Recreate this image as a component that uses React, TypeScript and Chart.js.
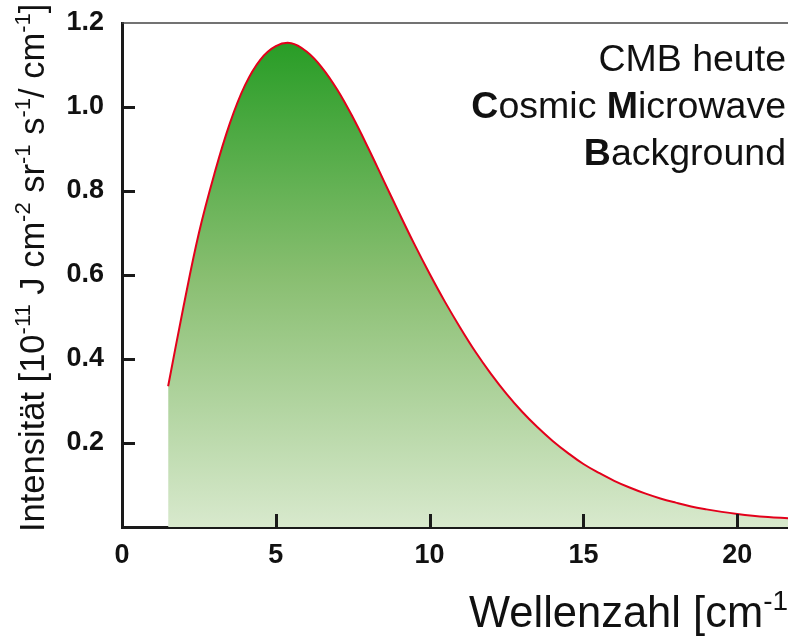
import React, { useEffect, useRef } from 'react';
import { Chart, registerables } from 'chart.js';

Chart.register(...registerables);

// ---- data ----
const wavenumber = [1.5, 2, 2.5, 3, 3.5, 4, 4.5, 5, 5.5, 6, 6.5, 7, 7.5, 8, 8.5, 9, 9.5, 10, 10.5, 11, 11.5, 12, 12.5, 13, 13.5, 14, 14.5, 15, 15.5, 16, 16.5, 17, 17.5, 18, 18.5, 19, 19.5, 20, 20.5, 21, 21.65];
const intensity = [0.335, 0.525, 0.7, 0.84, 0.96, 1.052, 1.113, 1.145, 1.152, 1.132, 1.094, 1.041, 0.976, 0.903, 0.826, 0.749, 0.674, 0.603, 0.536, 0.474, 0.416, 0.364, 0.317, 0.275, 0.238, 0.205, 0.176, 0.15, 0.129, 0.11, 0.094, 0.08, 0.068, 0.058, 0.049, 0.042, 0.036, 0.031, 0.027, 0.024, 0.021];
const xTickValues = [0, 5, 10, 15, 20];
const yTickValues = [0.2, 0.4, 0.6, 0.8, 1.0, 1.2];
const xMin = 0;
const xMax = 21.65;
const yMin = 0;
const yMax = 1.2;

type Seg = { t: string; sup?: boolean; bold?: boolean };

const yTitle: Seg[] = [
  { t: 'Intensität [10' }, { t: '-11', sup: true }, { t: ' J cm' }, { t: '-2', sup: true },
  { t: ' sr' }, { t: '-1', sup: true }, { t: ' s' }, { t: '-1', sup: true }, { t: '/ cm' },
  { t: '-1', sup: true }, { t: ']' },
];
const xTitle: Seg[] = [{ t: 'Wellenzahl [cm' }, { t: '-1', sup: true }, { t: ']' }];
const noteLines: Seg[][] = [
  [{ t: 'CMB heute' }],
  [{ t: 'C', bold: true }, { t: 'osmic ' }, { t: 'M', bold: true }, { t: 'icrowave' }],
  [{ t: 'B', bold: true }, { t: 'ackground' }],
];

const FAMILY = '"Liberation Sans", Arial, Helvetica, sans-serif';

function segFont(s: Seg, size: number) {
  const sz = s.sup ? Math.round(size * 0.64) : size;
  return `${s.bold ? 'bold ' : ''}${sz}px ${FAMILY}`;
}

function measureSegs(ctx: CanvasRenderingContext2D, segs: Seg[], size: number) {
  let w = 0;
  for (const s of segs) {
    ctx.font = segFont(s, size);
    w += ctx.measureText(s.t).width;
  }
  return w;
}

function drawSegs(ctx: CanvasRenderingContext2D, segs: Seg[], x: number, y: number, size: number) {
  let cx = x;
  ctx.textAlign = 'left';
  ctx.textBaseline = 'alphabetic';
  for (const s of segs) {
    ctx.font = segFont(s, size);
    const dy = s.sup ? -size * 0.4 : 0;
    ctx.fillText(s.t, cx, y + dy);
    cx += ctx.measureText(s.t).width;
  }
}

const textPlugin = {
  id: 'cmbText',
  afterDraw(chart: any) {
    const { ctx, chartArea } = chart;
    const xs = chart.scales.x;
    const ys = chart.scales.y;
    ctx.save();
    // top frame line
    ctx.strokeStyle = '#444';
    ctx.lineWidth = 1.5;
    ctx.beginPath();
    ctx.moveTo(chartArea.left, chartArea.top);
    ctx.lineTo(chartArea.right, chartArea.top);
    ctx.stroke();

    // inward tick marks
    ctx.strokeStyle = '#1a1a1a';
    ctx.lineWidth = 3;
    ctx.beginPath();
    xTickValues.forEach((v) => {
      if (v === xMin) return;
      const px = Math.round(xs.getPixelForValue(v)) + 0.5;
      ctx.moveTo(px, chartArea.bottom);
      ctx.lineTo(px, chartArea.bottom - 13);
    });
    yTickValues.forEach((v) => {
      if (v >= yMax - 1e-9) return;
      const py = Math.round(ys.getPixelForValue(v)) + 0.5;
      ctx.moveTo(chartArea.left, py);
      ctx.lineTo(chartArea.left + 13, py);
    });
    ctx.stroke();

    ctx.fillStyle = '#111';
    // y title (rotated)
    ctx.save();
    ctx.translate(44, 532);
    ctx.rotate(-Math.PI / 2);
    drawSegs(ctx, yTitle, 0, 0, 34.5);
    ctx.restore();

    // x title
    drawSegs(ctx, xTitle, 469, 627, 43.5);

    // note text, right aligned
    const baselines = [71, 118, 165];
    noteLines.forEach((line, i) => {
      const w = measureSegs(ctx, line, 37.5);
      drawSegs(ctx, line, 786 - w, baselines[i], 37.5);
    });
    ctx.restore();
  },
};

export default function App() {
  const ref = useRef<HTMLCanvasElement | null>(null);

  useEffect(() => {
    const canvas = ref.current;
    if (!canvas) return;
    const points = wavenumber.map((x, i) => ({ x, y: intensity[i] }));
    const chart = new Chart(canvas, {
      type: 'line',
      data: {
        datasets: [
          {
            data: points,
            borderColor: '#e3001b',
            borderWidth: 2,
            pointRadius: 0,
            tension: 0.4,
            fill: 'origin',
            backgroundColor: (c: any) => {
              const area = c.chart.chartArea;
              if (!area) return 'rgba(0,0,0,0)';
              const g = c.chart.ctx.createLinearGradient(0, area.top, 0, area.bottom);
              g.addColorStop(0, 'rgb(32,154,32)');
              g.addColorStop(0.5, 'rgb(136,190,112)');
              g.addColorStop(1, 'rgb(216,233,205)');
              return g;
            },
          },
        ],
      },
      options: {
        responsive: false,
        animation: false,
        devicePixelRatio: 1,
        layout: { padding: { top: 23, right: 0, left: 0, bottom: 0 } },
        plugins: { legend: { display: false }, tooltip: { enabled: false }, title: { display: false } },
        scales: {
          x: {
            type: 'linear',
            min: xMin,
            max: xMax,
            afterFit: (s: any) => { s.height = 116; s.paddingLeft = 0; s.paddingRight = 0; },
            afterBuildTicks: (s: any) => { s.ticks = xTickValues.map((v) => ({ value: v })); },
            grid: { drawOnChartArea: false, drawTicks: false },
            border: { display: true, color: '#1a1a1a', width: 3 },
            ticks: {
              padding: 12,
              color: '#111',
              font: { family: FAMILY, size: 27, weight: 'bold' },
              maxRotation: 0,
              autoSkip: false,
              callback: (v: any) => String(v),
            },
          },
          y: {
            type: 'linear',
            min: yMin,
            max: yMax,
            afterFit: (s: any) => { s.width = 122; s.paddingTop = 0; s.paddingBottom = 0; },
            afterBuildTicks: (s: any) => { s.ticks = yTickValues.map((v) => ({ value: v })); },
            grid: { drawOnChartArea: false, drawTicks: false },
            border: { display: true, color: '#1a1a1a', width: 3 },
            ticks: {
              padding: 18,
              color: '#111',
              font: { family: FAMILY, size: 27, weight: 'bold' },
              autoSkip: false,
              callback: (v: any) => Number(v).toFixed(1),
            },
          },
        },
      },
      plugins: [textPlugin],
    } as any);
    return () => chart.destroy();
  }, []);

  return (
    <div style={{ position: 'fixed', left: 0, top: 0, width: 788, height: 643, background: '#fff' }}>
      <canvas ref={ref} width={788} height={643} style={{ display: 'block', width: 788, height: 643 }} />
    </div>
  );
}
